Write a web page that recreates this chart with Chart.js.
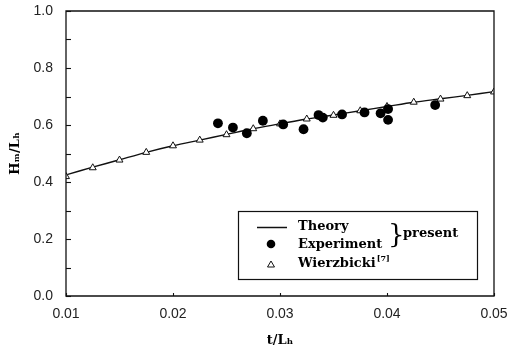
<!DOCTYPE html>
<html>
<head>
<meta charset="utf-8">
<script src="https://cdn.jsdelivr.net/npm/chart.js@4/dist/chart.umd.min.js"></script>
<style>
  html, body { margin: 0; padding: 0; background: #fff; }
  #wrap { width: 509px; height: 353px; position: relative; }
</style>
</head>
<body>
<div id="wrap"><canvas id="c" width="509" height="353"></canvas></div>
<script>
// ---- data ----
const theoryX = [0.01, 0.0125, 0.015, 0.0175, 0.02, 0.0225, 0.025, 0.0275, 0.03, 0.0325, 0.035, 0.0375, 0.04, 0.0425, 0.045, 0.0475, 0.05];
const theoryY = [0.425, 0.452, 0.478, 0.504, 0.527, 0.547, 0.567, 0.587, 0.604, 0.621, 0.635, 0.650, 0.665, 0.680, 0.692, 0.704, 0.717];

const expX = [0.0242, 0.0256, 0.0269, 0.0284, 0.0303, 0.0322, 0.0336, 0.0340, 0.0358, 0.0379, 0.0394, 0.0401, 0.0401, 0.0445];
const expY = [0.606, 0.591, 0.571, 0.615, 0.602, 0.585, 0.635, 0.626, 0.637, 0.644, 0.641, 0.656, 0.618, 0.670];

const wierX = [0.01, 0.0125, 0.015, 0.0175, 0.02, 0.0225, 0.025, 0.0275, 0.03, 0.0325, 0.035, 0.0375, 0.04, 0.0425, 0.045, 0.0475, 0.05];
const wierY = [0.419, 0.450, 0.477, 0.504, 0.527, 0.547, 0.566, 0.587, 0.604, 0.621, 0.634, 0.650, 0.665, 0.680, 0.691, 0.703, 0.716];

const xTickLabels = [0.01, 0.02, 0.03, 0.04, 0.05];
const yTickLabels = [0.0, 0.2, 0.4, 0.6, 0.8, 1.0];
const yMinorTicks = [0.1, 0.3, 0.5, 0.7, 0.9];

const legendLabels = ['Theory', 'Experiment', 'Wierzbicki'];
const legendRef = '[7]';
const legendGroup = 'present';
const xTitle = 't/L\u2095';
const yTitle = 'H\u2098/L\u2095';

const zip = (xs, ys) => xs.map((x, i) => ({ x: x, y: ys[i] }));

// ---- plugins ----
const framePlugin = {
  id: 'frame',
  afterDatasetsDraw(chart) {
    const { ctx, chartArea: a, scales } = chart;
    ctx.save();
    ctx.strokeStyle = '#111';
    ctx.lineWidth = 1.3;
    ctx.beginPath();
    ctx.rect(a.left, a.top, a.right - a.left, a.bottom - a.top);
    ctx.stroke();
    // inward ticks on y axis
    ctx.lineWidth = 1.1;
    const ys = yTickLabels.concat(yMinorTicks);
    ys.forEach(v => {
      const py = Math.round(scales.y.getPixelForValue(v)) + 0.5;
      ctx.beginPath();
      ctx.moveTo(a.left, py);
      ctx.lineTo(a.left + 5, py);
      ctx.stroke();
    });
    // inward ticks on x axis
    xTickLabels.forEach(v => {
      const px = Math.round(scales.x.getPixelForValue(v)) + 0.5;
      ctx.beginPath();
      ctx.moveTo(px, a.bottom);
      ctx.lineTo(px, a.bottom - 3);
      ctx.stroke();
    });
    ctx.restore();
  }
};

const legendPlugin = {
  id: 'customLegend',
  afterDraw(chart) {
    const { ctx } = chart;
    ctx.save();
    // box
    ctx.fillStyle = '#fff';
    ctx.fillRect(238, 211, 239, 68);
    ctx.strokeStyle = '#111';
    ctx.lineWidth = 1.2;
    ctx.strokeRect(238.5, 211.5, 239, 68);
    // Theory line
    ctx.lineWidth = 1.5;
    ctx.beginPath();
    ctx.moveTo(257, 227.5);
    ctx.lineTo(287, 227.5);
    ctx.stroke();
    // Experiment dot
    ctx.fillStyle = '#000';
    ctx.beginPath();
    ctx.arc(271, 244, 4.3, 0, Math.PI * 2);
    ctx.fill();
    // Wierzbicki triangle
    ctx.lineWidth = 1;
    ctx.beginPath();
    ctx.moveTo(271, 261);
    ctx.lineTo(274.5, 267);
    ctx.lineTo(267.5, 267);
    ctx.closePath();
    ctx.stroke();
    // texts
    ctx.fillStyle = '#000';
    ctx.font = 'bold 13px "DejaVu Serif"';
    ctx.textBaseline = 'middle';
    ctx.textAlign = 'left';
    ctx.fillText(legendLabels[0], 298, 227);
    ctx.fillText(legendLabels[1], 298, 245);
    ctx.fillText(legendLabels[2], 298, 264);
    const w = ctx.measureText(legendLabels[2]).width;
    ctx.font = 'bold 8px "DejaVu Serif"';
    ctx.fillText(legendRef, 298 + w + 1, 259);
    // brace and group label
    ctx.font = '26px "DejaVu Serif"';
    ctx.fillText('}', 388, 236);
    ctx.font = 'bold 13px "DejaVu Serif"';
    ctx.fillText(legendGroup, 403, 234);
    ctx.restore();
  }
};

const fixX = (scale) => { scale.height = 57; scale.paddingLeft = 0; scale.paddingRight = 0; };
const fixY = (scale) => { scale.width = 66; scale.paddingTop = 0; scale.paddingBottom = 0; };

new Chart(document.getElementById('c'), {
  type: 'scatter',
  data: {
    datasets: [
      {
        label: legendLabels[1],
        data: zip(expX, expY),
        pointStyle: 'circle',
        pointRadius: 4.9,
        backgroundColor: '#000',
        borderColor: '#000',
        borderWidth: 0,
        order: 0
      },
      {
        label: legendLabels[2],
        data: zip(wierX, wierY),
        pointStyle: 'triangle',
        pointRadius: 4,
        backgroundColor: '#fff',
        borderColor: '#111',
        borderWidth: 1,
        order: 1
      },
      {
        label: legendLabels[0],
        data: zip(theoryX, theoryY),
        showLine: true,
        pointRadius: 0,
        borderColor: '#111',
        borderWidth: 1.4,
        tension: 0.3,
        order: 2
      }
    ]
  },
  options: {
    responsive: false,
    animation: false,
    devicePixelRatio: 1,
    layout: { padding: { top: 11, right: 15, left: 0, bottom: 0 } },
    plugins: { legend: { display: false }, tooltip: { enabled: false } },
    scales: {
      x: {
        type: 'linear',
        min: 0.01,
        max: 0.05,
        afterFit: fixX,
        afterBuildTicks: (s) => { s.ticks = xTickLabels.map(v => ({ value: v })); },
        grid: { display: true, drawOnChartArea: false, drawTicks: false, color: 'rgba(0,0,0,0)' },
        border: { display: false },
        ticks: {
          padding: 10,
          color: '#222',
          font: { family: '"Liberation Sans"', size: 14 },
          maxRotation: 0,
          autoSkip: false,
          callback: (v) => Number(v).toFixed(2)
        },
        title: {
          display: true,
          text: xTitle,
          color: '#000',
          font: { family: '"DejaVu Serif"', size: 13, weight: 'bold' },
          padding: { top: 0, bottom: 5 }
        }
      },
      y: {
        type: 'linear',
        min: 0,
        max: 1,
        afterFit: fixY,
        afterBuildTicks: (s) => { s.ticks = yTickLabels.map(v => ({ value: v })); },
        grid: { display: true, drawOnChartArea: false, drawTicks: false, color: 'rgba(0,0,0,0)' },
        border: { display: false },
        ticks: {
          padding: 13,
          color: '#222',
          font: { family: '"Liberation Sans"', size: 14 },
          autoSkip: false,
          callback: (v) => Number(v).toFixed(1)
        },
        title: {
          display: true,
          text: yTitle,
          color: '#000',
          font: { family: '"DejaVu Serif"', size: 13, weight: 'bold' },
          padding: { top: 8, bottom: 0 }
        }
      }
    }
  },
  plugins: [framePlugin, legendPlugin]
});
</script>
</body>
</html>
